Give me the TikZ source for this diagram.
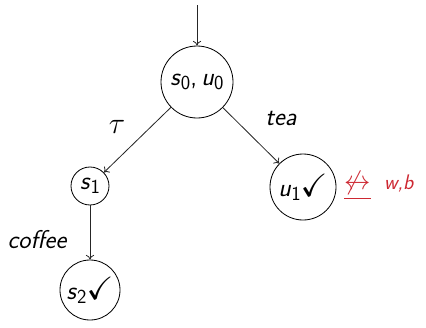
\documentclass[tikz,border=0pt]{standalone}
\usepackage{amsmath,amssymb}
\usepackage{tikz}
\usetikzlibrary{positioning,calc}
\usetikzlibrary{arrows.meta}
\definecolor{FailRed}{RGB}{205,40,50}
\newcommand{\sv}[2]{\textit{#1}\raisebox{-0.35ex}{\fontsize{17}{19}\selectfont\upshape #2}}
\newcommand{\ok}{\scalebox{1.25}{$\checkmark$}}
\tikzset{
	st/.style={circle,draw=black,line width=0.7pt,inner sep=1pt,font=\fontsize{22}{26}\sffamily},
	tr/.style={draw=black!85,line width=0.7pt,-{To[length=4pt,width=7pt]}},
	act/.style={font=\fontsize{22}{26}\sffamily\itshape},
}
\begin{document}
\begin{tikzpicture}[x=0.03cm,y=-0.03cm]
	\useasboundingbox (0,0) rectangle (426,327);
	\coordinate (init) at (197,5);
	\node[st,minimum size=72*0.03cm] (s0) at (197,82) {\sv{s}{0},\,\sv{u}{0}};
	\node[st,minimum size=38*0.03cm] (s1) at (90,186) {\sv{s}{1}};
	\node[st,minimum size=66*0.03cm] (u1) at (303,187) {\sv{u}{1}\ok};
	\node[st,minimum size=60*0.03cm] (s2) at (90,290) {\sv{s}{2}\ok};
	\foreach \x/\y in {init/s0,s0/s1,s0/u1,s1/s2}
	\draw[tr] (\x)--(\y);
	\node[act] (ltau) at (117,127) {\scalebox{1.25}{$\tau$}};
	\node[act] (ltea) at (281,118) {tea};
	\node[act] (lcof) at (37,240) {coffee};
	\node[text=FailRed,font=\fontsize{18}{22}\sffamily\itshape,anchor=west,inner sep=0pt] (nb) at (344,186)
		{\scalebox{1.3}{$\underline{\not\leftrightarrow}$}\,\, w,b};
\end{tikzpicture}
\end{document}
